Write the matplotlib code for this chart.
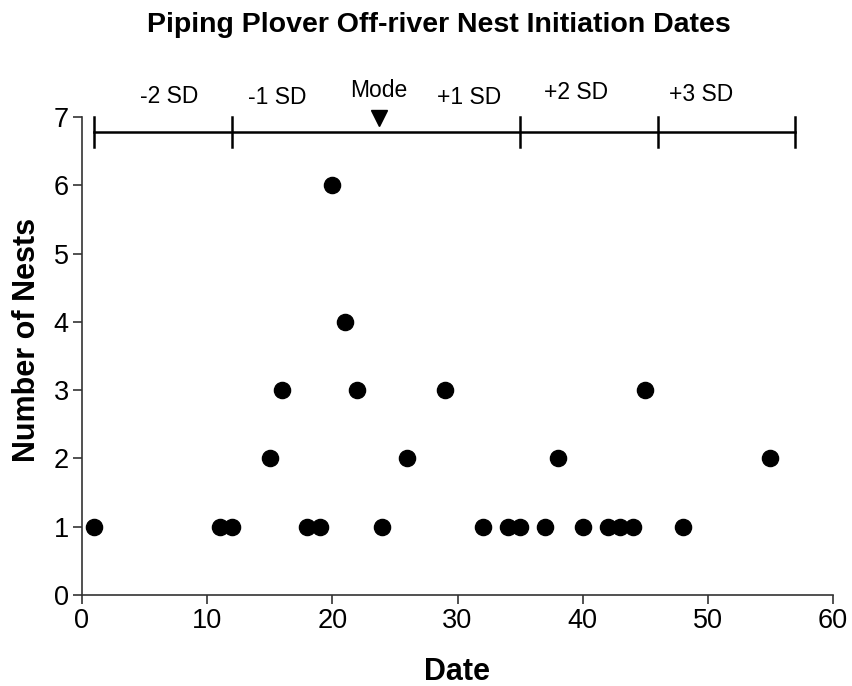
import matplotlib
matplotlib.use("Agg")
import matplotlib.pyplot as plt

plt.rcParams["font.family"] = ["Liberation Sans", "DejaVu Sans"]

# nest counts per initiation date
dates = [1, 11, 12, 15, 16, 18, 19, 20, 21, 22, 24, 26, 29, 32, 34, 35,
         37, 38, 40, 42, 43, 44, 45, 48, 55]
nests = [1, 1, 1, 2, 3, 1, 1, 6, 4, 3, 1, 2, 3, 1, 1, 1,
         1, 2, 1, 1, 1, 1, 3, 1, 2]

# standard deviation bracket above the points
sd_ticks = [1, 12, 35, 46, 57]
sd_labels = ["-2 SD", "-1 SD", "+1 SD", "+2 SD", "+3 SD"]
sd_label_x = [7.0, 15.6, 30.9, 39.5, 49.5]
sd_label_y = [7.30, 7.29, 7.29, 7.36, 7.33]
mode_x = 23.7
bracket_y = 6.78

fig = plt.figure(figsize=(8.53, 6.86), dpi=100)
ax = fig.add_axes([0.0961, 0.1327, 0.8805, 0.6967])

ax.scatter(dates, nests, s=135, color="black", zorder=3, clip_on=False)

ax.set_xlim(0, 60)
ax.set_ylim(0, 7)
ax.set_xticks(range(0, 61, 10))
ax.set_yticks(range(0, 8))

for side in ["top", "right"]:
    ax.spines[side].set_visible(False)
for side in ["left", "bottom"]:
    ax.spines[side].set_color("#333333")
    ax.spines[side].set_linewidth(1.2)
ax.tick_params(direction="out", length=6.5, width=1.2, color="#333333",
               labelsize=19.5, pad=3)

# bracket line with end ticks
ax.plot([sd_ticks[0], sd_ticks[-1]], [bracket_y, bracket_y], color="black",
        lw=1.8, clip_on=False)
for x in sd_ticks:
    ax.plot([x, x], [bracket_y - 0.22, bracket_y + 0.22], color="black",
            lw=1.8, clip_on=False)
for lx, ly, lab in zip(sd_label_x, sd_label_y, sd_labels):
    ax.text(lx, ly, lab, ha="center", va="center", fontsize=16.5,
            clip_on=False)
ax.plot([mode_x], [bracket_y + 0.2], marker="v", markersize=12,
        color="black", clip_on=False)
ax.text(mode_x, 7.39, "Mode", ha="center", va="center", fontsize=16.5,
        clip_on=False)

fig.text(0.536, 0.009, "Date", ha="center", va="baseline", fontsize=22,
         fontweight="bold")
fig.text(0.032, 1 - 340 / 686, "Number of Nests", ha="center", va="center",
         rotation=90, fontsize=22, fontweight="bold")
fig.text(0.515, 0.953, "Piping Plover Off-river Nest Initiation Dates",
         ha="center", va="baseline", fontsize=20.5, fontweight="bold")

fig.savefig("out.png", dpi=100)
